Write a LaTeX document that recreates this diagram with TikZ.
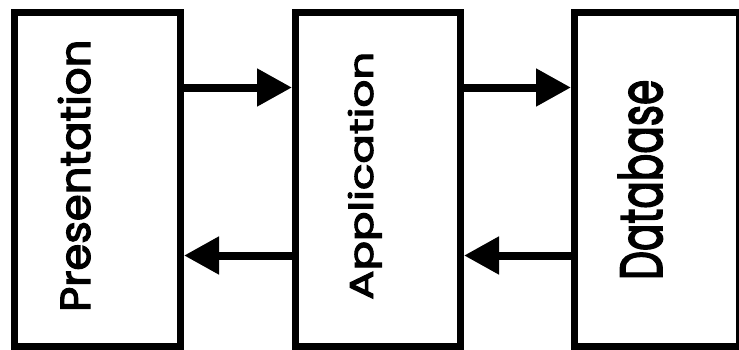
\documentclass[tikz,border=0pt]{standalone}
\usepackage{fontspec}
\setmainfont{Poppins}
\newfontfamily\tierfont[FakeBold=3]{Poppins}
\usepackage{graphicx}
\usetikzlibrary{arrows.meta}
\tikzset{
  tier/.style={draw=black, fill=white, line width=7pt, minimum height=334pt, inner sep=0pt},
  tiertext/.style={rotate=90, anchor=base west, inner sep=0pt, font=\tierfont},
  flow/.style={line width=8pt, -{Triangle[length=35pt 0 0, width=36pt 0 0]}}
}
\begin{document}
\begin{tikzpicture}[x=1pt,y=1pt]
\useasboundingbox (0,0) rectangle (739,349);
\clip (0,0) rectangle (739,349);
\fill[white] (0,0) rectangle (739,349);
\node[tier, minimum width=166pt] (pres) at (97.5,169.5) {};
\node[tier, minimum width=165pt] (app) at (378,169.5) {};
\node[tier, minimum width=165pt] (db) at (657,169.5) {};
\node[tiertext] (tpres) at (90,37) {\resizebox{272pt}{32pt}{Presentation}};
\node[tiertext] (tapp) at (373,49) {\resizebox{248pt}{25pt}{Application}};
\node[tiertext] (tdb) at (662,69) {\resizebox{200pt}{44pt}{Database}};
\draw[flow] ([yshift=92pt]pres.east) -- ([yshift=92pt]app.west);
\draw[flow] ([yshift=92pt]app.east) -- ([yshift=92pt]db.west);
\draw[flow] ([yshift=-76pt]app.west) -- ([yshift=-76pt]pres.east);
\draw[flow] ([yshift=-76pt]db.west) -- ([yshift=-76pt]app.east);
\end{tikzpicture}
\end{document}
